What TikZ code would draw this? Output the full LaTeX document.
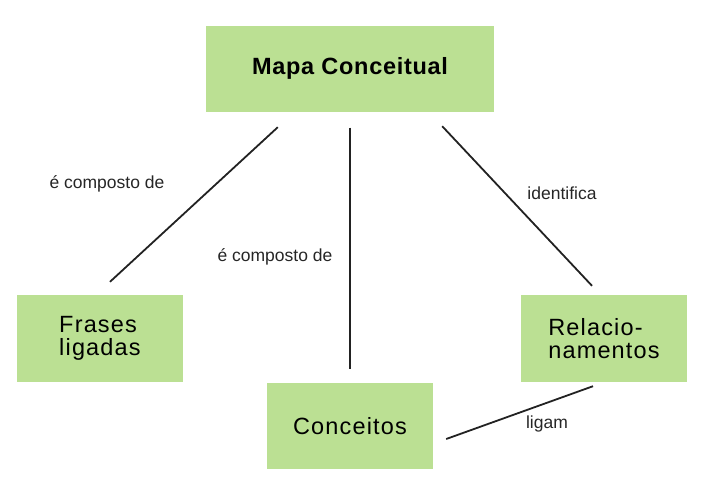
\documentclass[tikz,border=0pt]{standalone}
\usepackage{fontspec}
\setmainfont{Liberation Sans}
\newfontfamily\boxfont[LetterSpace=5]{Liberation Sans}
\newfontfamily\titlefont[LetterSpace=3]{Liberation Sans}
\usetikzlibrary{calc}
\definecolor{boxgreen}{RGB}{187,224,147}
\definecolor{linegray}{RGB}{34,34,34}
\tikzset{
  concept/.style={fill=boxgreen, draw=none, inner sep=0pt, minimum width=166pt, minimum height=87pt, align=left, font=\boxfont\fontsize{23.5}{23.5}\selectfont},
  titlebox/.style={concept, minimum width=288pt, minimum height=86pt, font=\titlefont\bfseries\fontsize{23.5}{23.5}\selectfont},
  link/.style={draw=linegray, line width=1.8pt},
  lbl/.style={inner sep=1pt, font=\fontsize{17.5}{20}\selectfont, text=black!85}
}
\begin{document}
\begin{tikzpicture}[x=1pt,y=-1pt]
\useasboundingbox (0,0) rectangle (707,490);
\node[titlebox] (mapa) at (350,68.5) {Mapa Conceitual};
\node[concept] (frases) at (100,338.5) {Frases\\ligadas};
\node[concept, minimum height=86pt] (conceitos) at (350,426) {Conceitos};
\node[concept] (relac) at (604,338.5) {Relacio-\\namentos};

\coordinate (a1) at ($(mapa.south west)+(72,15.5)$);
\coordinate (a2) at ($(frases.north)+(10,-13)$);
\coordinate (b1) at ($(mapa.south)+(0,16)$);
\coordinate (b2) at ($(conceitos.north)+(0,-14)$);
\coordinate (c1) at ($(mapa.south east)+(-52,14.5)$);
\coordinate (c2) at ($(relac.north)+(-12,-9)$);
\coordinate (d1) at ($(relac.south)+(-11,4)$);
\coordinate (d2) at ($(conceitos.east)+(13,13)$);

\draw[link] (a1) -- (a2);
\draw[link] (b1) -- (b2);
\draw[link] (c1) -- (c2);
\draw[link] (d1) -- (d2);

\node[lbl] (l1) at (107,184) {é composto de};
\node[lbl] (l2) at (275,257) {é composto de};
\node[lbl] (l3) at (562,193) {identifica};
\node[lbl] (l4) at (547,424) {ligam};
\end{tikzpicture}
\end{document}
